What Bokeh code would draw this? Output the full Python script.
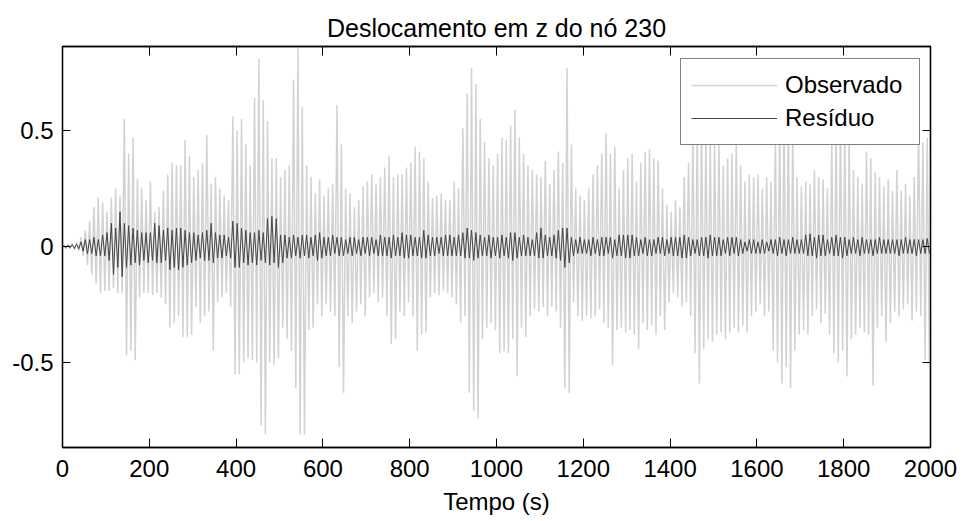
import numpy as np
from bokeh.plotting import figure
from bokeh.models import (LinearAxis, Range1d, Legend, LegendItem, FixedTicker,
                          CustomJSTickFormatter)
from bokeh.embed import file_html
from bokeh.resources import INLINE

# ---------------- data ----------------
# 10-second bins: positive peak and negative peak of each signal per bin
bin_start = list(range(0, 2000, 10))

obs_hi = [
    0.01, 0.01, 0.015, 0.02, 0.04, 0.07, 0.11, 0.17, 0.21, 0.19,
    0.15, 0.21, 0.25, 0.22, 0.55, 0.40, 0.47, 0.29, 0.25, 0.20,
    0.28, 0.15, 0.17, 0.24, 0.31, 0.36, 0.35, 0.35, 0.46, 0.39,
    0.30, 0.33, 0.36, 0.48, 0.27, 0.30, 0.25, 0.22, 0.20, 0.56,
    0.50, 0.55, 0.44, 0.35, 0.64, 0.81, 0.63, 0.54, 0.38, 0.38,
    0.30, 0.33, 0.35, 0.72, 0.86, 0.60, 0.35, 0.30, 0.23, 0.29,
    0.22, 0.25, 0.27, 0.61, 0.44, 0.25, 0.23, 0.17, 0.20, 0.26,
    0.28, 0.31, 0.27, 0.30, 0.34, 0.39, 0.30, 0.31, 0.31, 0.34,
    0.36, 0.43, 0.41, 0.38, 0.28, 0.21, 0.22, 0.23, 0.20, 0.20,
    0.28, 0.25, 0.51, 0.66, 0.77, 0.70, 0.55, 0.45, 0.38, 0.35,
    0.40, 0.47, 0.46, 0.52, 0.59, 0.47, 0.40, 0.35, 0.33, 0.31,
    0.30, 0.37, 0.27, 0.33, 0.41, 0.36, 0.77, 0.44, 0.25, 0.22,
    0.20, 0.25, 0.31, 0.35, 0.40, 0.49, 0.40, 0.43, 0.25, 0.33,
    0.38, 0.40, 0.28, 0.36, 0.41, 0.42, 0.38, 0.37, 0.25, 0.18,
    0.15, 0.20, 0.17, 0.30, 0.36, 0.48, 0.52, 0.55, 0.50, 0.46,
    0.45, 0.44, 0.35, 0.38, 0.40, 0.46, 0.35, 0.28, 0.31, 0.30,
    0.31, 0.25, 0.30, 0.28, 0.50, 0.56, 0.60, 0.58, 0.52, 0.30,
    0.26, 0.28, 0.27, 0.33, 0.30, 0.29, 0.25, 0.46, 0.52, 0.55,
    0.50, 0.47, 0.33, 0.30, 0.27, 0.41, 0.38, 0.32, 0.30, 0.26,
    0.29, 0.24, 0.33, 0.24, 0.27, 0.22, 0.30, 0.50, 0.45, 0.47,
]

obs_lo = [
    -0.01, -0.01, -0.015, -0.02, -0.04, -0.08, -0.12, -0.16, -0.20, -0.19,
    -0.19, -0.18, -0.20, -0.20, -0.47, -0.45, -0.49, -0.22, -0.20, -0.20,
    -0.21, -0.20, -0.22, -0.25, -0.35, -0.33, -0.30, -0.39, -0.39, -0.38,
    -0.26, -0.33, -0.30, -0.28, -0.45, -0.24, -0.22, -0.20, -0.26, -0.55,
    -0.55, -0.50, -0.48, -0.49, -0.50, -0.77, -0.81, -0.50, -0.51, -0.48,
    -0.35, -0.40, -0.45, -0.61, -0.81, -0.81, -0.36, -0.35, -0.25, -0.30,
    -0.25, -0.28, -0.30, -0.52, -0.63, -0.30, -0.33, -0.28, -0.25, -0.30,
    -0.22, -0.20, -0.24, -0.22, -0.30, -0.42, -0.40, -0.28, -0.30, -0.24,
    -0.30, -0.45, -0.38, -0.37, -0.22, -0.20, -0.21, -0.19, -0.20, -0.22,
    -0.25, -0.33, -0.30, -0.63, -0.71, -0.74, -0.40, -0.35, -0.33, -0.36,
    -0.46, -0.45, -0.46, -0.40, -0.56, -0.35, -0.39, -0.30, -0.27, -0.28,
    -0.26, -0.30, -0.26, -0.28, -0.35, -0.61, -0.63, -0.24, -0.30, -0.32,
    -0.30, -0.31, -0.30, -0.27, -0.33, -0.35, -0.51, -0.36, -0.35, -0.37,
    -0.36, -0.38, -0.44, -0.33, -0.36, -0.34, -0.38, -0.30, -0.36, -0.24,
    -0.20, -0.22, -0.26, -0.24, -0.30, -0.46, -0.59, -0.44, -0.40, -0.41,
    -0.38, -0.37, -0.40, -0.37, -0.35, -0.37, -0.34, -0.37, -0.30, -0.28,
    -0.25, -0.30, -0.28, -0.45, -0.50, -0.59, -0.52, -0.61, -0.45, -0.38,
    -0.36, -0.38, -0.30, -0.27, -0.33, -0.29, -0.38, -0.46, -0.50, -0.45,
    -0.56, -0.40, -0.38, -0.35, -0.37, -0.38, -0.60, -0.35, -0.30, -0.41,
    -0.33, -0.28, -0.30, -0.27, -0.25, -0.32, -0.28, -0.30, -0.49, -0.52,
]

res_hi = [
    0.005, 0.005, 0.008, 0.01, 0.02, 0.03, 0.03, 0.04, 0.03, 0.05,
    0.06, 0.10, 0.08, 0.15, 0.10, 0.09, 0.08, 0.07, 0.06, 0.06,
    0.06, 0.10, 0.09, 0.07, 0.08, 0.07, 0.08, 0.08, 0.07, 0.06,
    0.06, 0.05, 0.06, 0.07, 0.10, 0.06, 0.05, 0.05, 0.04, 0.11,
    0.10, 0.08, 0.07, 0.06, 0.06, 0.07, 0.06, 0.12, 0.13, 0.12,
    0.05, 0.05, 0.04, 0.05, 0.04, 0.05, 0.05, 0.04, 0.05, 0.06,
    0.04, 0.04, 0.05, 0.04, 0.04, 0.03, 0.04, 0.04, 0.03, 0.04,
    0.04, 0.04, 0.03, 0.05, 0.04, 0.04, 0.05, 0.04, 0.06, 0.05,
    0.05, 0.04, 0.04, 0.07, 0.05, 0.04, 0.04, 0.04, 0.05, 0.05,
    0.04, 0.05, 0.06, 0.08, 0.07, 0.06, 0.05, 0.04, 0.05, 0.04,
    0.04, 0.05, 0.04, 0.06, 0.06, 0.04, 0.05, 0.04, 0.03, 0.06,
    0.08, 0.05, 0.04, 0.05, 0.07, 0.08, 0.08, 0.04, 0.03, 0.04,
    0.03, 0.03, 0.04, 0.03, 0.04, 0.04, 0.04, 0.03, 0.05, 0.05,
    0.05, 0.05, 0.04, 0.03, 0.04, 0.03, 0.03, 0.04, 0.04, 0.03,
    0.04, 0.04, 0.04, 0.05, 0.04, 0.03, 0.03, 0.04, 0.04, 0.05,
    0.04, 0.04, 0.03, 0.04, 0.04, 0.04, 0.03, 0.02, 0.03, 0.03,
    0.02, 0.03, 0.02, 0.03, 0.03, 0.04, 0.03, 0.03, 0.04, 0.03,
    0.03, 0.05, 0.055, 0.04, 0.05, 0.05, 0.03, 0.04, 0.05, 0.04,
    0.04, 0.03, 0.04, 0.03, 0.04, 0.03, 0.03, 0.03, 0.04, 0.03,
    0.03, 0.03, 0.03, 0.03, 0.04, 0.03, 0.03, 0.03, 0.03, 0.035,
]

res_lo = [
    -0.005, -0.005, -0.008, -0.01, -0.02, -0.03, -0.03, -0.04, -0.04, -0.04,
    -0.06, -0.12, -0.09, -0.13, -0.09, -0.08, -0.07, -0.08, -0.06, -0.07,
    -0.06, -0.07, -0.07, -0.06, -0.10, -0.09, -0.10, -0.09, -0.08, -0.07,
    -0.06, -0.05, -0.06, -0.06, -0.07, -0.05, -0.05, -0.04, -0.05, -0.09,
    -0.09, -0.07, -0.08, -0.07, -0.08, -0.06, -0.07, -0.08, -0.07, -0.09,
    -0.07, -0.05, -0.05, -0.04, -0.05, -0.04, -0.05, -0.04, -0.06, -0.05,
    -0.04, -0.04, -0.03, -0.04, -0.04, -0.03, -0.04, -0.03, -0.04, -0.03,
    -0.04, -0.03, -0.04, -0.04, -0.04, -0.05, -0.04, -0.04, -0.05, -0.05,
    -0.04, -0.04, -0.05, -0.05, -0.04, -0.04, -0.03, -0.04, -0.04, -0.04,
    -0.04, -0.04, -0.05, -0.05, -0.06, -0.05, -0.04, -0.04, -0.05, -0.04,
    -0.05, -0.04, -0.05, -0.06, -0.05, -0.04, -0.04, -0.04, -0.04, -0.05,
    -0.05, -0.04, -0.04, -0.05, -0.06, -0.09, -0.07, -0.04, -0.03, -0.03,
    -0.03, -0.04, -0.03, -0.04, -0.04, -0.03, -0.05, -0.04, -0.04, -0.05,
    -0.05, -0.04, -0.04, -0.03, -0.04, -0.04, -0.03, -0.03, -0.04, -0.03,
    -0.04, -0.04, -0.05, -0.05, -0.04, -0.03, -0.04, -0.04, -0.05, -0.04,
    -0.04, -0.04, -0.03, -0.04, -0.03, -0.04, -0.03, -0.02, -0.03, -0.03,
    -0.03, -0.03, -0.02, -0.03, -0.04, -0.03, -0.04, -0.03, -0.03, -0.03,
    -0.03, -0.04, -0.04, -0.05, -0.04, -0.04, -0.03, -0.04, -0.04, -0.05,
    -0.04, -0.03, -0.03, -0.04, -0.03, -0.03, -0.04, -0.03, -0.03, -0.03,
    -0.03, -0.03, -0.04, -0.03, -0.03, -0.03, -0.04, -0.03, -0.03, -0.03,
]

x_ticks = [0, 200, 400, 600, 800, 1000, 1200, 1400, 1600, 1800, 2000]
y_ticks = [-0.5, 0, 0.5]
title_text = "Deslocamento em z do nó 230"
x_label = "Tempo (s)"
series_names = ["Observado", "Resíduo"]

assert len(obs_hi) == len(obs_lo) == len(res_hi) == len(res_lo) == len(bin_start)


def interleave(starts, hi, lo):
    n = len(starts)
    xs = np.empty(2 * n)
    ys = np.empty(2 * n)
    s = np.asarray(starts, dtype=float)
    xs[0::2] = s + 2.5
    xs[1::2] = s + 7.5
    ys[0::2] = hi
    ys[1::2] = lo
    return xs, ys


ox, oy = interleave(bin_start, obs_hi, obs_lo)
rx, ry = interleave(bin_start, res_hi, res_lo)

FONT = "Liberation Sans"
FS = "24px"

p = figure(
    width=963, height=521,
    x_range=Range1d(0, 2000), y_range=Range1d(-0.866, 0.862),
    output_backend="svg", toolbar_location=None,
    min_border_left=62, min_border_right=33, min_border_top=46, min_border_bottom=74,
    background_fill_color="white", border_fill_color="white",
)
p.title.text = title_text
p.title.align = "center"
p.title.text_font = FONT
p.title.text_font_size = "25px"
p.title.text_font_style = "normal"
p.title.text_color = "black"

p.xgrid.visible = False
p.ygrid.visible = False
p.outline_line_color = "black"
p.outline_line_width = 1.3

obs_r = p.line(ox, oy, line_color="#d2d2d2", line_width=1.5)
res_r = p.line(rx, ry, line_color="#454545", line_width=1)

plain_fmt = CustomJSTickFormatter(code="return String(Math.round(tick * 100) / 100);")
empty_fmt = CustomJSTickFormatter(code="return '';")


def style_axis(ax, ticks, labels=True, tick_in=8):
    ax.ticker = FixedTicker(ticks=ticks)
    ax.formatter = plain_fmt if labels else empty_fmt
    ax.major_tick_in = tick_in
    ax.major_tick_out = 0
    ax.minor_tick_line_color = None
    ax.axis_line_color = "black"
    ax.axis_line_width = 1.3
    ax.major_tick_line_color = "black"
    ax.major_label_text_font = FONT
    ax.major_label_text_font_size = FS
    ax.major_label_text_color = "black"
    ax.axis_label_text_font = FONT
    ax.axis_label_text_font_size = FS
    ax.axis_label_text_font_style = "normal"
    ax.axis_label_text_color = "black"
    if not labels:
        ax.major_label_standoff = 0


style_axis(p.xaxis[0], x_ticks, tick_in=9)
style_axis(p.yaxis[0], y_ticks)
p.xaxis[0].axis_label = x_label
p.xaxis[0].major_label_standoff = 12
p.xaxis[0].axis_label_standoff = 8
p.yaxis[0].major_label_standoff = 9

top_ax = LinearAxis()
style_axis(top_ax, x_ticks, labels=False, tick_in=9)
p.add_layout(top_ax, "above")
right_ax = LinearAxis()
style_axis(right_ax, y_ticks, labels=False)
p.add_layout(right_ax, "right")

legend = Legend(
    items=[LegendItem(label=series_names[0], renderers=[obs_r]),
           LegendItem(label=series_names[1], renderers=[res_r])],
    location=(618, 302),
    orientation="vertical",
    padding=10, spacing=1, margin=0,
    glyph_width=86, glyph_height=32, label_height=32, label_width=124,
    label_standoff=8,
    label_text_font=FONT, label_text_font_size=FS, label_text_color="black",
    border_line_color="black", border_line_width=1.3,
    background_fill_color="white", background_fill_alpha=1,
)
p.add_layout(legend, "center")

open("out.html", "w").write(file_html(p, INLINE))
